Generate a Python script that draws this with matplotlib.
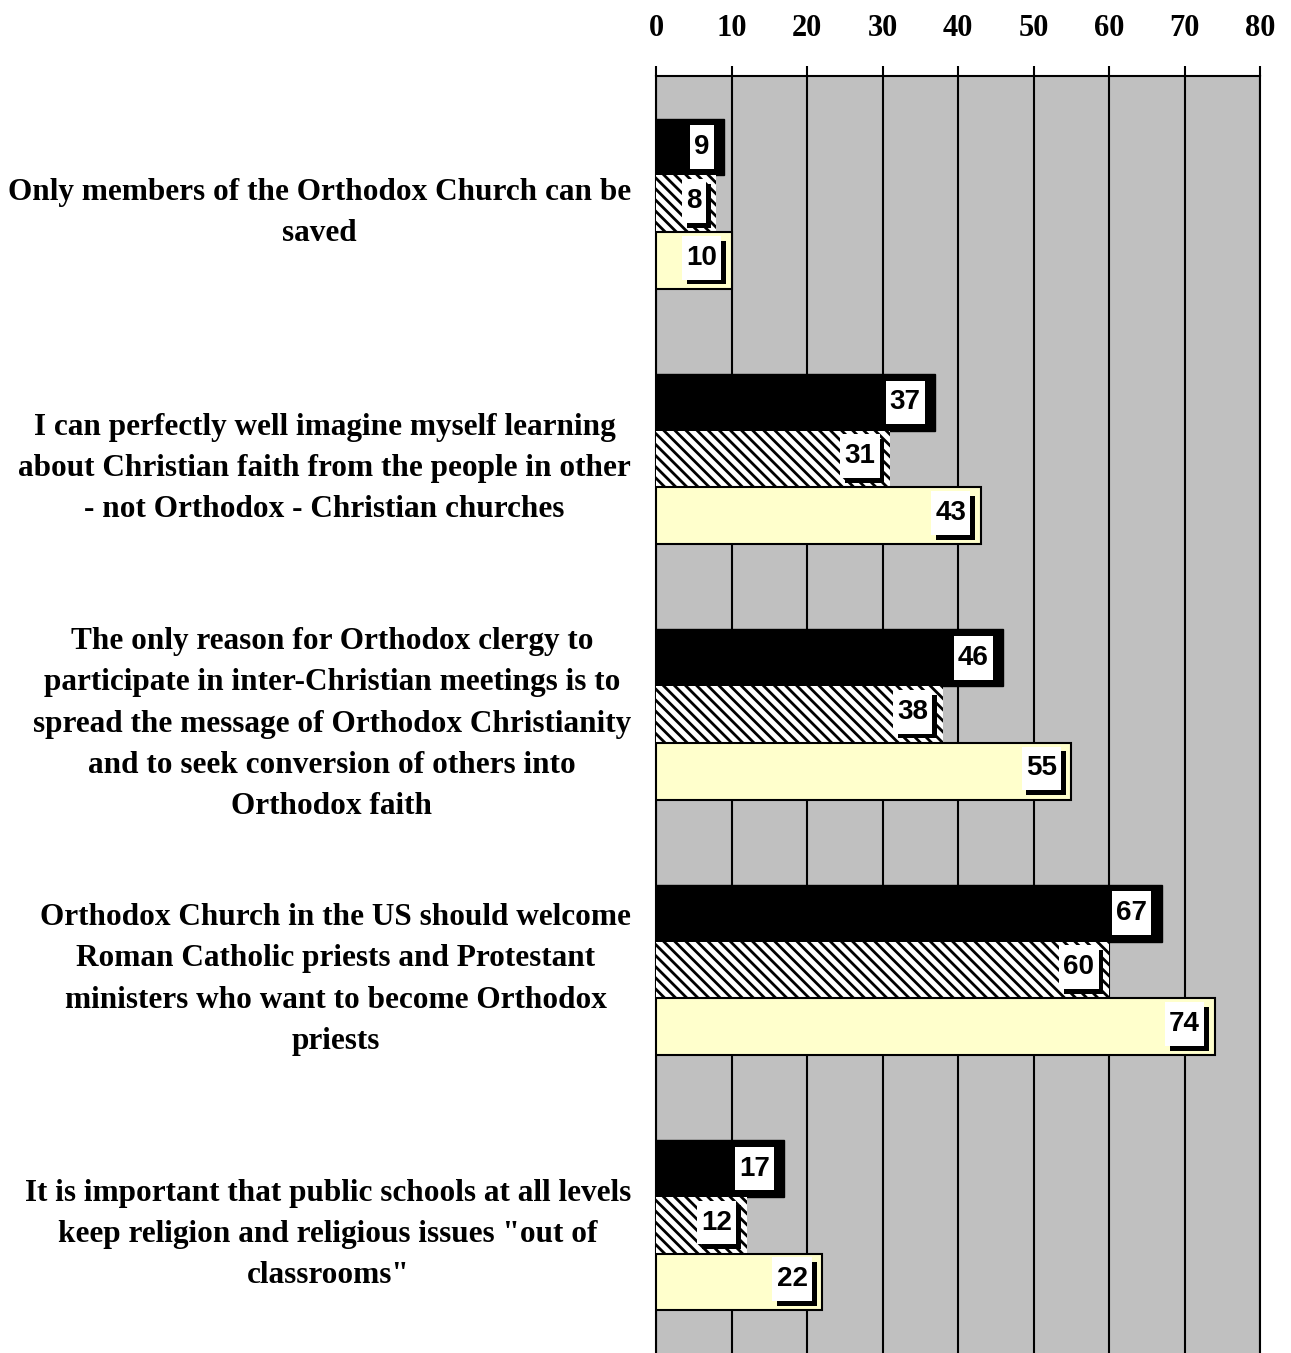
#!/usr/bin/env python3
# -*- coding: utf-8 -*-
'''
Horizontal grouped bars: attitudes of Orthodox respondents, three groups.
'''
import numpy as np
import matplotlib
matplotlib.use('Agg')
import matplotlib.pyplot as plt
import matplotlib.patheffects as pe
from matplotlib.path import Path

### data
statements = [
    'Only members of the Orthodox Church can be\nsaved',
    'I can perfectly well imagine myself learning\nabout Christian faith from the people in other\n- not Orthodox - Christian churches',
    'The only reason for Orthodox clergy to\nparticipate in inter-Christian meetings is to\nspread the message of Orthodox Christianity\nand to seek conversion of others into\nOrthodox faith',
    'Orthodox Church in the US should welcome\nRoman Catholic priests and Protestant\nministers who want to become Orthodox\npriests',
    'It is important that public schools at all levels\nkeep religion and religious issues "out of\nclassrooms"',
]
series_black = [9, 37, 46, 67, 17]
series_hatch = [8, 31, 38, 60, 12]
series_yellow = [10, 43, 55, 74, 22]
xticks = [0, 10, 20, 30, 40, 50, 60, 70, 80]

plt.rcParams['hatch.linewidth'] = 2.0

W, H = 1291, 1353
fig = plt.figure(figsize=(W / 100, H / 100), dpi=100)
ax = fig.add_axes([656 / W, 0, (1260 - 656) / W, 1 - 76 / H])
ax.set_facecolor('#C0C0C0')

y = np.arange(len(statements))
h = 0.222

ax.barh(y - h, series_black, height=h, color='black', edgecolor='black', linewidth=1, zorder=3)
ax.barh(y, series_hatch, height=h, color='white', edgecolor='black', linewidth=0,
        hatch='\\\\\\', zorder=3)
ax.barh(y + h, series_yellow, height=h, color='#FFFFCC', edgecolor='black', linewidth=1.5, zorder=3)

def tall_box(x0, y0, width, height, mutation_size):
    # label boxes are taller than wide padding would give
    px, py = 0.15 * mutation_size, 0.32 * mutation_size
    x0, y0, x1, y1 = x0 - px, y0 - py, x0 + width + px, y0 + height + py
    return Path([(x0, y0), (x1, y0), (x1, y1), (x0, y1), (x0, y0)], closed=True)

def label_bars(values, offs, shadow):
    for i, v in enumerate(values):
        t = ax.annotate(str(v), (v, i + offs), xytext=(-10.5, 2 if shadow else 0), textcoords='offset points',
                        ha='right', va='center', fontsize=20, fontweight='bold',
                        family='Liberation Sans', zorder=5,
                        bbox=dict(boxstyle=tall_box, fc='white', ec='none'))
        if shadow:
            t.get_bbox_patch().set_path_effects([
                pe.SimplePatchShadow(offset=(3.5, -3.5), shadow_rgbFace='black', alpha=1),
                pe.Normal()])

label_bars(series_black, -h, False)
label_bars(series_hatch, 0, True)
label_bars(series_yellow, h, True)

ax.set_xlim(0, 80)
ax.set_ylim(len(statements) - 0.5, -0.5)
ax.set_xticks(xticks)
ax.xaxis.tick_top()
ax.tick_params(axis='x', direction='out', length=7, width=1.5, pad=17, labelsize=22)
for lab in ax.get_xticklabels():
    lab.set_family('Liberation Serif')
    lab.set_fontweight('bold')
ax.grid(axis='x', color='black', linewidth=1.5, zorder=1)
ax.set_axisbelow(True)

ax.set_yticks(y)
ax.set_yticklabels(statements, fontsize=22.5, fontweight='bold', family='Liberation Serif',
                   multialignment='center', linespacing=1.55)
ax.tick_params(axis='y', length=0, pad=18)

ax.spines['bottom'].set_visible(False)
for s in ('top', 'left', 'right'):
    ax.spines[s].set_linewidth(1.5)

fig.savefig('out.png', dpi=100)
